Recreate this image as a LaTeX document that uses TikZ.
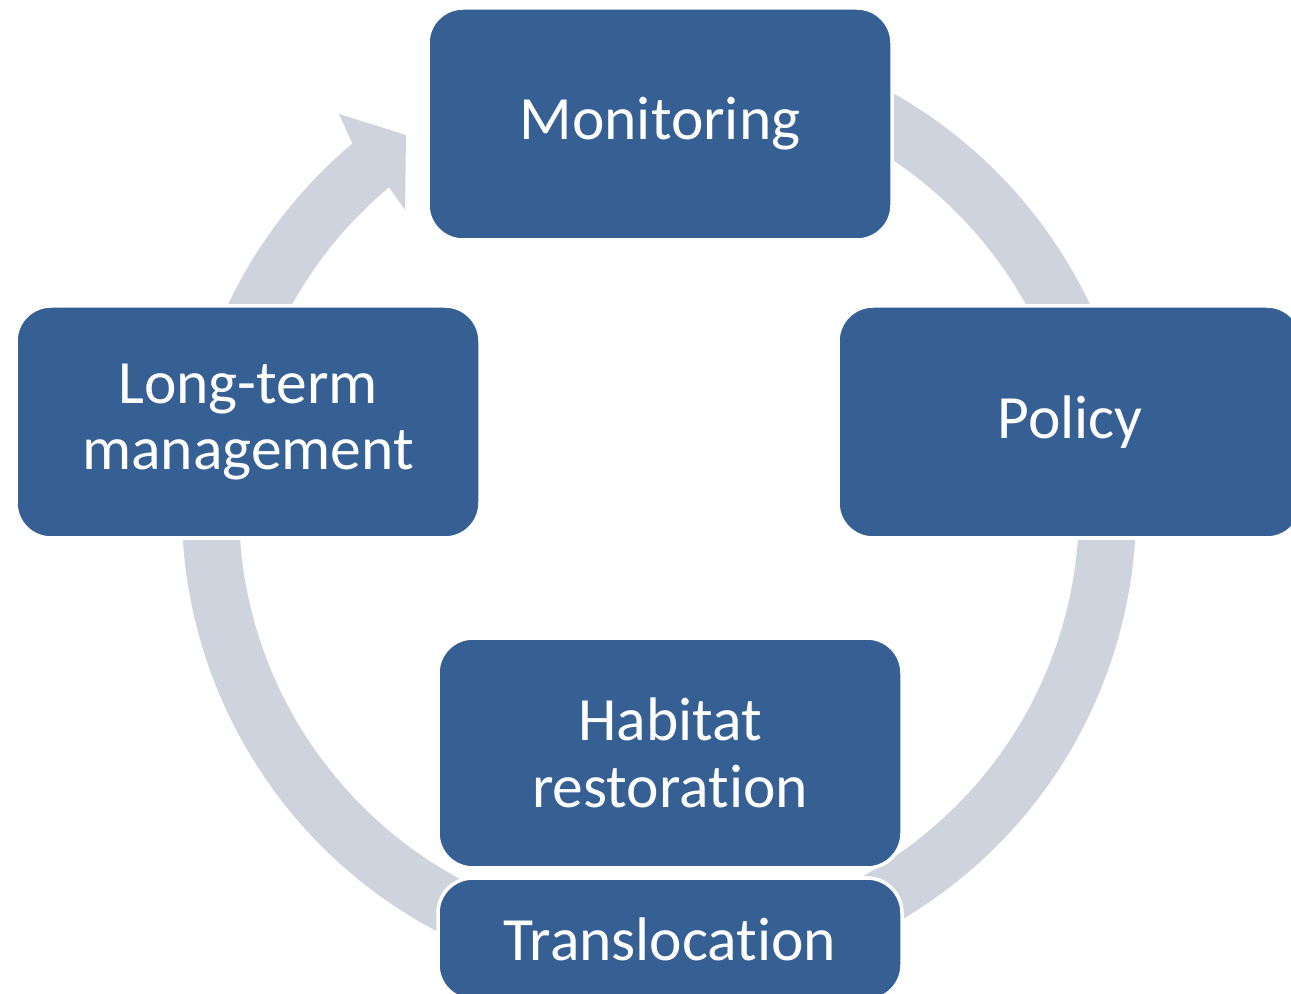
\documentclass[tikz,border=0pt]{standalone}
\usepackage{fontspec}
\setmainfont{Carlito}[Ligatures=NoCommon]
\definecolor{boxblue}{RGB}{54,96,148}
\definecolor{ringgrey}{RGB}{206,211,222}

\begin{document}
\begin{tikzpicture}[
        box/.style={rectangle, rounded corners=0.35cm, fill=boxblue, draw=white, line width=1pt,
            text=white, minimum width=4.64cm, minimum height=2.32cm, align=center,
            font=\fontsize{17.5}{19}\selectfont},
    ]
        \useasboundingbox (0,0) rectangle (12.91,9.93);
        \clip (0,0) rectangle (12.91,9.93);

        % the cycle band with its single head
        \begin{scope}[shift={(6.59,4.84)}]
            \fill[ringgrey] (75:4.77) arc[start angle=75, end angle=-230, radius=4.77]
                -- (-3.20,3.95) -- (-2.53,3.74) -- (-2.54,2.99)
                -- (130:4.20) arc[start angle=-230, end angle=75, radius=4.20] -- cycle;
        \end{scope}

        \node[box] (mon) at (6.60,8.69) {Monitoring};
        \node[box] (pol) at (10.70,5.71) {Policy};
        \node[box] (ltm) at (2.48,5.71) {Long-term\\management};
        \node[box, minimum height=2.30cm] (hab) at (6.70,2.40) {Habitat\\restoration};
        \node[box, minimum height=1.22cm] (tra) at (6.70,0.54) {Translocation};
    \end{tikzpicture}
\end{document}
